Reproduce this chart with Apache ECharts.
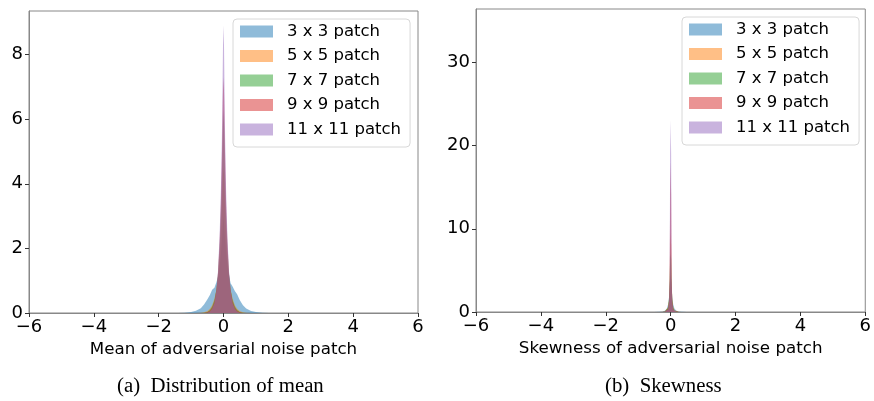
<!DOCTYPE html>
<html>
<head>
<meta charset="utf-8">
<script src="https://cdn.jsdelivr.net/npm/echarts@6/dist/echarts.min.js"></script>
<style>
  html, body { margin: 0; padding: 0; background: #fff; }
  #chart { width: 874px; height: 401px; }
</style>
</head>
<body>
<div id="chart"></div>
<script>
// patch sizes (legend)
const patchNames = ["3 x 3 patch", "5 x 5 patch", "7 x 7 patch", "9 x 9 patch", "11 x 11 patch"];
const patchColors = ["31,119,180", "255,127,14", "44,160,44", "214,39,40", "148,103,189"];

// (a) mean of the noise patch, density
const meanX = [-1.4, -1.2, -1.0, -0.85, -0.7, -0.6, -0.5, -0.42, -0.35, -0.28, -0.22, -0.17, -0.12, -0.08, -0.05, -0.03, -0.015,
  0, 0.015, 0.03, 0.05, 0.08, 0.12, 0.17, 0.22, 0.28, 0.35, 0.42, 0.5, 0.6, 0.7, 0.85, 1.0, 1.2, 1.4];
const mean3 = [0, 0.01, 0.03, 0.07, 0.15, 0.26, 0.42, 0.56, 0.72, 0.78, 0.95, 1.12, 1.45, 1.85, 2.25, 2.6, 2.85,
  3.0, 2.8, 2.55, 2.3, 1.9, 1.5, 1.18, 0.92, 0.82, 0.68, 0.58, 0.4, 0.24, 0.14, 0.06, 0.03, 0.01, 0];
const mean5 = [0, 0, 0, 0, 0.01, 0.02, 0.06, 0.13, 0.25, 0.44, 0.72, 1.1, 1.75, 2.5, 3.3, 3.9, 4.3,
  4.5, 4.3, 3.9, 3.3, 2.5, 1.75, 1.1, 0.72, 0.45, 0.25, 0.13, 0.06, 0.02, 0.01, 0, 0, 0, 0];
const mean7 = [0, 0, 0, 0, 0, 0.01, 0.03, 0.09, 0.2, 0.4, 0.72, 1.2, 2.0, 3.0, 4.2, 5.2, 5.9,
  6.3, 5.9, 5.2, 4.2, 3.0, 2.0, 1.2, 0.72, 0.4, 0.2, 0.09, 0.03, 0.01, 0, 0, 0, 0, 0];
const mean9 = [0, 0, 0, 0, 0, 0, 0.02, 0.07, 0.16, 0.35, 0.7, 1.25, 2.2, 3.4, 4.8, 6.0, 6.9,
  7.3, 6.9, 6.0, 4.8, 3.4, 2.2, 1.25, 0.7, 0.35, 0.16, 0.07, 0.02, 0, 0, 0, 0, 0, 0];
const mean11 = [0, 0, 0, 0, 0, 0, 0.01, 0.05, 0.12, 0.3, 0.7, 1.3, 2.4, 3.8, 5.4, 7.0, 8.3,
  8.9, 8.3, 7.0, 5.4, 3.8, 2.4, 1.3, 0.7, 0.3, 0.12, 0.05, 0.01, 0, 0, 0, 0, 0, 0];

// (b) skewness of the noise patch
const skewX = [-0.8, -0.7, -0.5, -0.35, -0.25, -0.18, -0.12, -0.08, -0.05, -0.03, -0.015,
  0, 0.015, 0.03, 0.05, 0.08, 0.12, 0.18, 0.25, 0.35, 0.5, 0.7, 0.8];
const skew3 = [0, 0.01, 0.015, 0.03, 0.07, 0.15, 0.4, 0.9, 1.8, 3.0, 4.0,
  4.5, 4.0, 3.0, 1.8, 0.9, 0.4, 0.15, 0.07, 0.03, 0.015, 0.01, 0];
const skew5 = [0, 0, 0, 0, 0.02, 0.06, 0.2, 0.6, 1.6, 4.0, 8.0,
  9.5, 8.0, 4.0, 1.6, 0.6, 0.2, 0.06, 0.02, 0, 0, 0, 0];
const skew7 = [0, 0, 0, 0, 0.015, 0.05, 0.18, 0.55, 1.5, 3.8, 6.4,
  7.0, 6.4, 3.8, 1.5, 0.55, 0.18, 0.05, 0.015, 0, 0, 0, 0];
const skew9 = [0, 0, 0, 0, 0.01, 0.03, 0.12, 0.4, 1.3, 4.0, 14.0,
  18.0, 14.0, 4.0, 1.3, 0.4, 0.12, 0.03, 0.01, 0, 0, 0, 0];
const skew11 = [0, 0, 0, 0, 0, 0.02, 0.08, 0.3, 1.1, 4.0, 19.0,
  23.0, 19.0, 4.0, 1.1, 0.3, 0.08, 0.02, 0, 0, 0, 0, 0];

// axis ticks
const xTicks = [-6, -4, -2, 0, 2, 4, 6];
const meanTicks = [0, 2, 4, 6, 8];
const skewTicks = [0, 10, 20, 30];

const meanSeries = [mean3, mean5, mean7, mean9, mean11];
const skewSeries = [skew3, skew5, skew7, skew9, skew11];

const FONT = "DejaVu Sans";
const frameColor = "#888";

function minus(v) {
  return String(v).replace("-", "\u2212");
}

function xAxisFor(gridIndex, title) {
  return {
    type: "value",
    gridIndex: gridIndex,
    min: -6,
    max: 6,
    interval: 2,
    name: title,
    nameLocation: "middle",
    nameGap: 27,
    nameTextStyle: { fontFamily: FONT, fontSize: 16.7, color: "#000" },
    splitLine: { show: false },
    axisLine: { show: true, onZero: false, lineStyle: { color: frameColor, width: 1 } },
    axisTick: { show: true, length: 4, customValues: xTicks, lineStyle: { color: "#333" } },
    axisLabel: {
      customValues: xTicks,
      margin: 5,
      fontFamily: FONT,
      fontSize: 18,
      color: "#000",
      formatter: minus,
    },
  };
}

function yAxisFor(gridIndex, max, interval, ticks) {
  return {
    type: "value",
    gridIndex: gridIndex,
    min: 0,
    max: max,
    interval: interval,
    splitLine: { show: false },
    axisLine: { show: true, onZero: false, lineStyle: { color: frameColor, width: 1 } },
    axisTick: { show: true, length: 4, customValues: ticks, lineStyle: { color: "#333" } },
    axisLabel: {
      customValues: ticks,
      margin: 6,
      fontFamily: FONT,
      fontSize: 18,
      color: "#000",
    },
  };
}

function histSeries(xs, values, i, axisIndex) {
  const c = patchColors[i];
  return {
    name: patchNames[i],
    type: "line",
    xAxisIndex: axisIndex,
    yAxisIndex: axisIndex,
    data: xs.map((x, k) => [x, values[k]]),
    showSymbol: false,
    symbol: "none",
    lineStyle: { width: 0 },
    itemStyle: { color: `rgba(${c},0.5)` },
    areaStyle: { color: `rgba(${c},0.5)`, opacity: 1 },
    z: 2 + i,
  };
}

function legendAt(left, top) {
  return {
    orient: "vertical",
    left: left,
    top: top,
    icon: "rect",
    itemWidth: 33,
    itemHeight: 12,
    itemGap: 7.5,
    padding: [4, 9, 9, 7],
    borderColor: "#d8d8d8",
    borderWidth: 1,
    borderRadius: 4,
    backgroundColor: "#fff",
    selectedMode: false,
    data: patchNames,
    textStyle: { fontFamily: FONT, fontSize: 16.5, lineHeight: 17, color: "#000", padding: [0, 0, 0, 9] },
  };
}

const chart = echarts.init(document.getElementById("chart"), null, { renderer: "canvas" });

const series = [];
meanSeries.forEach((vals, i) => series.push(histSeries(meanX, vals, i, 0)));
skewSeries.forEach((vals, i) => series.push(histSeries(skewX, vals, i, 1)));

chart.setOption({
  animation: false,
  backgroundColor: "#fff",
  grid: [
    { left: 29, top: 11, width: 389, height: 302, show: true, borderColor: frameColor, borderWidth: 1 },
    { left: 476, top: 9, width: 391, height: 303, show: true, borderColor: frameColor, borderWidth: 1 },
  ],
  xAxis: [
    xAxisFor(0, "Mean of adversarial noise patch"),
    xAxisFor(1, "Skewness of adversarial noise patch"),
  ],
  yAxis: [
    yAxisFor(0, 9.35, 2, meanTicks),
    yAxisFor(1, 36.4, 10, skewTicks),
  ],
  legend: [legendAt(233, 19), legendAt(682, 17)],
  series: series,
  graphic: [
    {
      type: "text",
      left: 117,
      top: 376,
      style: { text: "(a)  Distribution of mean", font: "20.8px 'Liberation Serif'", fill: "#000" },
    },
    {
      type: "text",
      left: 605,
      top: 376,
      style: { text: "(b)  Skewness", font: "20.8px 'Liberation Serif'", fill: "#000" },
    },
  ],
});
</script>
</body>
</html>
